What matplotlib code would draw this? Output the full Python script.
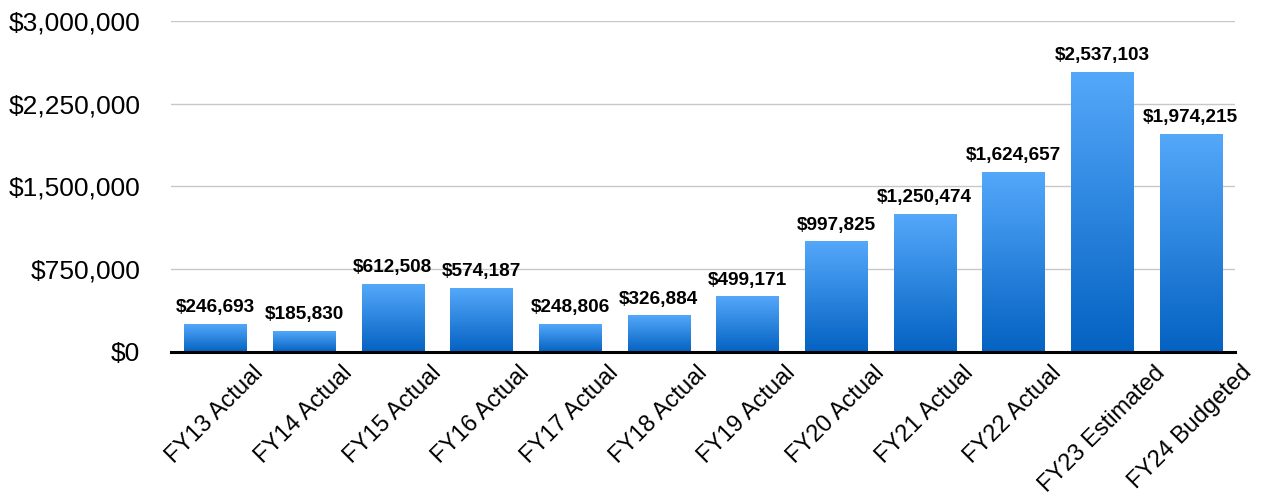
import numpy as np
import matplotlib.pyplot as plt
from matplotlib.colors import LinearSegmentedColormap
from matplotlib.ticker import FuncFormatter

plt.rcParams['font.family'] = ['Liberation Sans', 'DejaVu Sans']

categories = ['FY13 Actual', 'FY14 Actual', 'FY15 Actual', 'FY16 Actual',
              'FY17 Actual', 'FY18 Actual', 'FY19 Actual', 'FY20 Actual',
              'FY21 Actual', 'FY22 Actual', 'FY23 Estimated', 'FY24 Budgeted']
values = [246693, 185830, 612508, 574187, 248806, 326884,
          499171, 997825, 1250474, 1624657, 2537103, 1974215]
yticks = [0, 750000, 1500000, 2250000, 3000000]

fig = plt.figure(figsize=(12.62, 4.97), dpi=100)
ax = fig.add_axes([0.1355, 0.2918, 0.9786 - 0.1355, 0.9577 - 0.2918])

# vertical gradient, dark at the bottom, light at the top
cmap = LinearSegmentedColormap.from_list('blu', ['#0462c2', '#54a8fa'])
grad = np.linspace(0, 1, 256).reshape(-1, 1)

width = 0.70
x = np.arange(len(categories))
bars = ax.bar(x, values, width=width, color='none', edgecolor='none', zorder=2)
for b in bars:
    x0, y0 = b.get_x(), b.get_y()
    w, h = b.get_width(), b.get_height()
    ax.imshow(grad, cmap=cmap, origin='lower', aspect='auto',
              extent=[x0, x0 + w, y0, y0 + h], zorder=2)

for xi, v in zip(x, values):
    ax.annotate('${:,}'.format(v), (xi, v), xytext=(0, 6), textcoords='offset points',
                ha='center', va='bottom', fontsize=13.7, fontweight='bold', zorder=3)

ax.set_xlim(-0.5, len(categories) - 0.5)
ax.set_ylim(0, 3000000)
ax.set_yticks(yticks)
ax.yaxis.set_major_formatter(FuncFormatter(lambda v, p: '${:,.0f}'.format(v)))
ax.tick_params(axis='y', length=0, pad=22, labelsize=19)
ax.tick_params(axis='x', length=0, pad=7, labelsize=17)
ax.grid(axis='y', color='#c8c8c8', linewidth=1, zorder=0)
ax.set_axisbelow(True)

for s in ['left', 'right', 'top']:
    ax.spines[s].set_visible(False)
ax.spines['bottom'].set_linewidth(2.2)
ax.spines['bottom'].set_zorder(4)

# labels centred under each bar, rotated
ax.set_xticks(x)
ax.set_xticklabels(categories, rotation=45, ha='center', va='top')

fig.savefig('out.png', dpi=100)
